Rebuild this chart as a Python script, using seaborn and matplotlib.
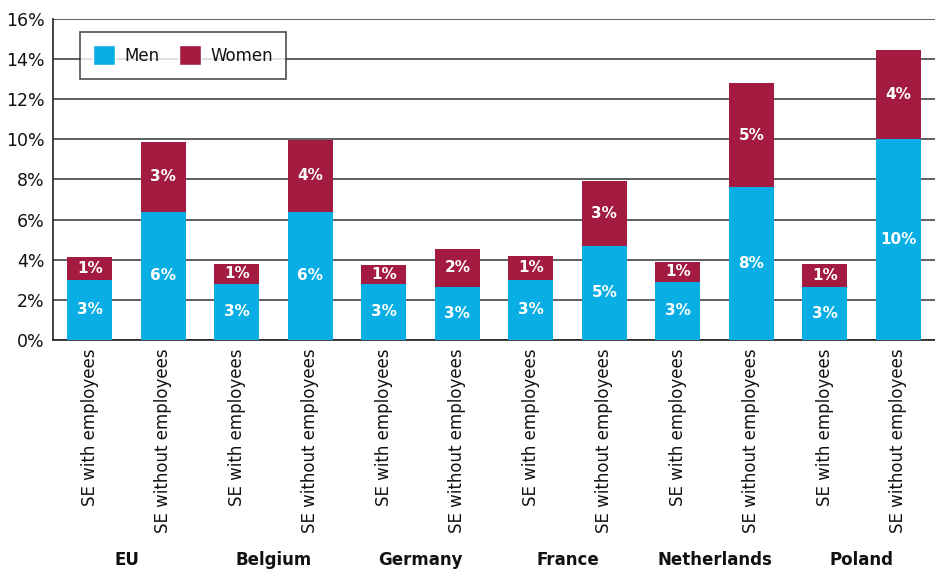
import numpy as np
import pandas as pd
import matplotlib
matplotlib.use("Agg")
import matplotlib.pyplot as plt
import seaborn as sns
from matplotlib.patches import Patch
import matplotlib.transforms as mtransforms

# ===================== DATA =====================
countries = ["EU", "Belgium", "Germany", "France", "Netherlands", "Poland"]
types = ["SE with employees", "SE without employees"]
men = [3.0, 6.4, 2.8, 6.4, 2.8, 2.65, 3.0, 4.7, 2.9, 7.6, 2.65, 10.0]
women = [1.15, 3.45, 1.0, 3.55, 0.95, 1.9, 1.2, 3.2, 1.0, 5.2, 1.15, 4.45]

MEN_COL = "#09AEE4"
WOMEN_COL = "#A31B41"
TXT = "#111111"

labels = [f"{c}|{t}" for c in countries for t in types]
df = pd.DataFrame({"key": labels, "men": men, "women": women})
df["total"] = df["men"] + df["women"]

# ===================== PLOT =====================
sns.set_style("white")
plt.rcParams["font.family"] = ["DejaVu Sans"]
plt.rcParams["text.color"] = TXT
plt.rcParams["xtick.color"] = TXT
plt.rcParams["ytick.color"] = TXT

fig = plt.figure(figsize=(9.35, 5.74), dpi=100)
ax = fig.add_axes([0.0567, 0.4077, 0.9433, 0.5593])

sns.barplot(data=df, x="key", y="total", color=WOMEN_COL, width=0.61,
            saturation=1, linewidth=0, ax=ax, zorder=3)
sns.barplot(data=df, x="key", y="men", color=MEN_COL, width=0.61,
            saturation=1, linewidth=0, ax=ax, zorder=4)

ax.set_ylim(0, 16)
ax.set_xlim(-0.5, len(labels) - 0.5)
ax.set_yticks(np.arange(0, 17, 2))
ax.set_yticklabels([f"{v}%" for v in range(0, 17, 2)], fontsize=12.5)
ax.yaxis.grid(True, color="#444444", linewidth=1.2, zorder=0)
ax.set_axisbelow(True)
ax.set_xlabel("")
ax.set_ylabel("")
ax.set_xticks(range(len(labels)))
ax.set_xticklabels([l.split("|")[1] for l in labels], rotation=90,
                   fontsize=12, va="top")
ax.tick_params(axis="both", length=0, pad=6, colors=TXT)

for s in ["top", "right"]:
    ax.spines[s].set_visible(False)
ax.spines["left"].set_color("#222222")
ax.spines["bottom"].set_color("#222222")
ax.spines["left"].set_linewidth(1.2)
ax.spines["bottom"].set_linewidth(1.2)

# value labels
for i, (m, w) in enumerate(zip(men, women)):
    ax.text(i, m / 2, f"{round(m):.0f}%", ha="center", va="center",
            color="white", fontsize=11, fontweight="bold", zorder=5)
    ax.text(i, m + w / 2, f"{round(w):.0f}%", ha="center", va="center",
            color="white", fontsize=11, fontweight="bold", zorder=5)

# country labels
trans = mtransforms.blended_transform_factory(ax.transData, ax.transAxes)
for k, c in enumerate(countries):
    ax.text(2 * k + 0.5, -0.685, c, transform=trans, ha="center", va="center",
            fontsize=12, fontweight="bold", color=TXT)

# legend
handles = [Patch(facecolor=MEN_COL, label="Men"),
           Patch(facecolor=WOMEN_COL, label="Women")]
leg = ax.legend(handles=handles, ncol=2, loc="upper left",
                bbox_to_anchor=(0.021, 0.986), frameon=True, fancybox=False,
                fontsize=12, handlelength=1.3, handleheight=1.5,
                borderpad=0.8, columnspacing=1.2, handletextpad=0.55,
                labelcolor=TXT)
leg.get_frame().set_edgecolor("#222222")
leg.get_frame().set_linewidth(1.2)
leg.set_zorder(6)

fig.savefig("out.png", dpi=100)
